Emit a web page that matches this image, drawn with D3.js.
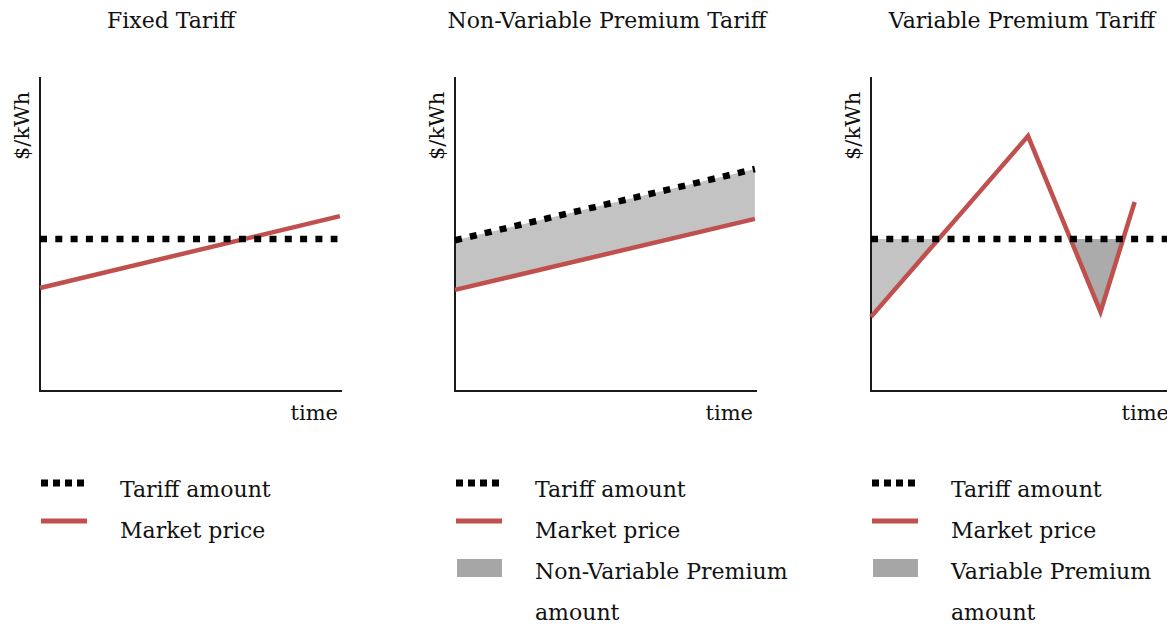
<!DOCTYPE html>
<html>
<head>
<meta charset="utf-8">
<script src="https://cdn.jsdelivr.net/npm/d3@7"></script>
<style>
  body { margin: 0; background: #fff; }
  text { font-family: "DejaVu Serif", "Liberation Serif", serif; fill: #111; }
</style>
</head>
<body>
<svg id="main-vis" width="1167" height="625"></svg>
<script>
// chart values (time and $/kWh are unitless here, 0..10 on each axis)
const panelTitles = ["Fixed Tariff", "Non-Variable Premium Tariff", "Variable Premium Tariff"];
const yAxisLabel = "$/kWh";
const xAxisLabel = "time";

const fixedTariff = [{ t: 0, v: 4.84 }, { t: 9.85, v: 4.84 }];
const fixedMarket = [{ t: 0, v: 3.28 }, { t: 9.93, v: 5.57 }];

const nonVarTariff = [{ t: 0, v: 4.8 }, { t: 9.93, v: 7.07 }];
const nonVarMarket = [{ t: 0, v: 3.22 }, { t: 9.93, v: 5.48 }];

const varTariff = [{ t: 0, v: 4.84 }, { t: 10.6, v: 4.84 }];
const varMarket = [{ t: 0, v: 2.36 }, { t: 5.2, v: 8.12 }, { t: 7.6, v: 2.52 }, { t: 8.73, v: 6.02 }];

const legendFixed = ["Tariff amount", "Market price"];
const legendNonVar = ["Tariff amount", "Market price", "Non-Variable Premium", "amount"];
const legendVar = ["Tariff amount", "Market price", "Variable Premium", "amount"];

const RED = "#c0504d";

// layout for each of the three small charts
const panels = [
    { title: panelTitles[0], left: 40, titleX: 171, tariff: fixedTariff, market: fixedMarket, premium: null, legend: legendFixed },
    { title: panelTitles[1], left: 455, titleX: 607, tariff: nonVarTariff, market: nonVarMarket, premium: "band", legend: legendNonVar },
    { title: panelTitles[2], left: 871, titleX: 1022, tariff: varTariff, market: varMarket, premium: "below", legend: legendVar }
];

const plotTop = 77, plotBottom = 391, plotWidth = 302;

const svg = d3.select("#main-vis");

panels.forEach((p, idx) => {
    const g = svg.append("g");

    const x = d3.scaleLinear().domain([0, 10]).range([p.left, p.left + plotWidth]);
    const y = d3.scaleLinear().domain([0, 10]).range([plotBottom, plotTop]);

    const line = d3.line().x(d => x(d.t)).y(d => y(d.v));

    // title
    g.append("text")
        .attr("x", p.titleX)
        .attr("y", 28)
        .attr("text-anchor", "middle")
        .attr("font-size", "22px")
        .text(p.title);

    // premium shading
    if (p.premium === "band") {
        const band = p.tariff.map((d, i) => ({ t: d.t, top: d.v, bot: p.market[i].v }));
        g.append("path")
            .datum(band)
            .attr("fill", "#c3c3c3")
            .attr("d", d3.area().x(d => x(d.t)).y0(d => y(d.top)).y1(d => y(d.bot)));
    } else if (p.premium === "below") {
        // only the part where market price drops under the tariff
        const level = p.tariff[0].v;
        const clipId = "clip-below-" + idx;
        g.append("clipPath").attr("id", clipId)
            .append("rect")
            .attr("x", x(0))
            .attr("y", y(level))
            .attr("width", plotWidth)
            .attr("height", plotBottom - y(level));
        const shades = [{ from: 0, to: 5.2, fill: "#c3c3c3" }, { from: 5.2, to: 10, fill: "#ababab" }];
        shades.forEach((s, k) => {
            const segClip = clipId + "-" + k;
            g.append("clipPath").attr("id", segClip)
                .append("rect")
                .attr("x", x(s.from))
                .attr("y", y(level))
                .attr("width", x(s.to) - x(s.from))
                .attr("height", plotBottom - y(level));
            g.append("g")
                .attr("clip-path", `url(#${clipId})`)
                .append("path")
                .datum(p.market)
                .attr("clip-path", `url(#${segClip})`)
                .attr("fill", s.fill)
                .attr("d", d3.area().x(d => x(d.t)).y0(y(level)).y1(d => y(d.v)));
        });
    }

    // axes as plain L shape
    g.append("path")
        .attr("d", `M${x(0)},${plotTop}V${plotBottom}H${x(10)}`)
        .attr("fill", "none")
        .attr("stroke", "#1a1a1a")
        .attr("stroke-width", 2);

    // market price
    g.append("path")
        .datum(p.market)
        .attr("fill", "none")
        .attr("stroke", RED)
        .attr("stroke-width", 4.5)
        .attr("d", line);

    // tariff, square dotted
    g.append("path")
        .datum(p.tariff)
        .attr("fill", "none")
        .attr("stroke", "#000")
        .attr("stroke-width", 6.5)
        .attr("stroke-dasharray", "7,8.3")
        .attr("d", line);

    // axis labels
    g.append("text")
        .attr("transform", `translate(${p.left - 11},${160}) rotate(-90)`)
        .attr("font-size", "21px")
        .text(yAxisLabel);

    g.append("text")
        .attr("x", x(10) - 4)
        .attr("y", 420)
        .attr("text-anchor", "end")
        .attr("font-size", "21px")
        .text(xAxisLabel);

    // legend
    const lg = g.append("g").attr("transform", `translate(${p.left},0)`);
    lg.append("line")
        .attr("x1", 1).attr("x2", 49)
        .attr("y1", 483).attr("y2", 483)
        .attr("stroke", "#000")
        .attr("stroke-width", 7)
        .attr("stroke-dasharray", "7,5");
    lg.append("line")
        .attr("x1", 1).attr("x2", 47)
        .attr("y1", 521).attr("y2", 521)
        .attr("stroke", RED)
        .attr("stroke-width", 5);
    if (p.premium) {
        lg.append("rect")
            .attr("x", 2).attr("y", 559)
            .attr("width", 45).attr("height", 18)
            .attr("fill", "#a6a6a6");
    }
    lg.selectAll("text.legend")
        .data(p.legend)
        .enter()
        .append("text")
        .attr("class", "legend")
        .attr("x", 80)
        .attr("y", (d, i) => 497 + i * 41)
        .attr("font-size", "22px")
        .text(d => d);
});
</script>
</body>
</html>
